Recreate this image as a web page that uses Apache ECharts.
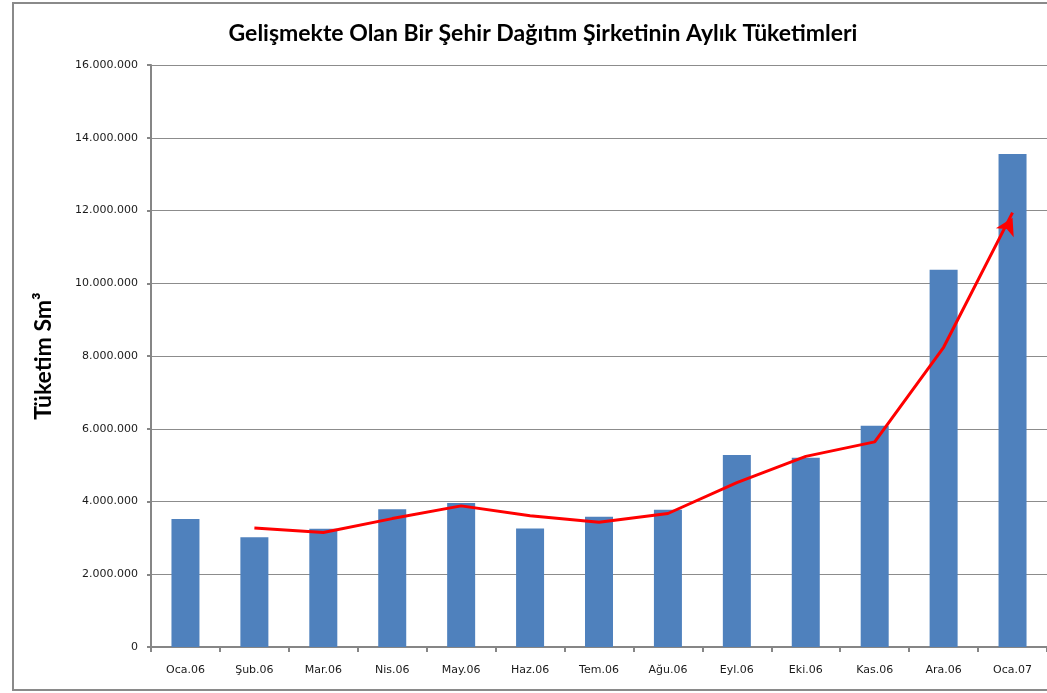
<!DOCTYPE html>
<html><head><meta charset="utf-8">
<script src="https://cdn.jsdelivr.net/npm/echarts@6/dist/echarts.min.js"></script>
<style>html,body{margin:0;padding:0;background:#fff}#c{width:1047px;height:693px}</style>
</head><body><div id="c"></div>
<script>
const categories = ['Oca.06','Şub.06','Mar.06','Nis.06','May.06','Haz.06','Tem.06','Ağu.06','Eyl.06','Eki.06','Kas.06','Ara.06','Oca.07'];
const consumption = [3520000,3020000,3250000,3790000,3960000,3260000,3580000,3770000,5280000,5200000,6080000,10370000,13550000];
const trend = [null,3270000,3150000,3530000,3880000,3610000,3430000,3670000,4520000,5240000,5640000,8240000,11940000];
const yTicks = [0,2000000,4000000,6000000,8000000,10000000,12000000,14000000,16000000];

function fmt(v){ return String(v).replace(/\B(?=(\d{3})+(?!\d))/g,'.'); }

const trendData = trend.map((v,i)=> i===trend.length-1
  ? {value:v, symbol:'arrow', symbolSize:[15,17], symbolRotate:-27, symbolOffset:[0,5], itemStyle:{color:'#FF0000'}}
  : v);

const chart = echarts.init(document.getElementById('c'));
chart.setOption({
  animation:false,
  backgroundColor:'#fff',
  title:{text:'Gelişmekte Olan Bir Şehir Dağıtım Şirketinin Aylık Tüketimleri', left:538, textAlign:'center', top:17,
    textStyle:{fontFamily:'Lato', fontWeight:'bold', fontSize:23, color:'#000'}},
  graphic:[{type:'rect', shape:{x:13,y:3,width:1100,height:687}, style:{fill:'none', stroke:'#8a8a8a', lineWidth:2}, silent:true}],
  grid:{left:151, right:-3, top:65, bottom:46},
  xAxis:{type:'category', data:categories, boundaryGap:true,
    axisLine:{lineStyle:{color:'#868686', width:2}},
    axisTick:{show:true, length:5, lineStyle:{color:'#868686', width:2}},
    axisLabel:{fontFamily:'DejaVu Sans', fontSize:11, color:'#1a1a1a', margin:18}},
  yAxis:{type:'value', min:0, max:16000000, interval:2000000,
    name:'Tüketim Sm³', nameLocation:'middle', nameGap:96, nameRotate:90,
    nameTextStyle:{fontFamily:'Lato', fontWeight:'bold', fontSize:23, color:'#000'},
    axisLine:{show:true, lineStyle:{color:'#868686', width:2}},
    axisTick:{show:true, length:4, lineStyle:{color:'#868686', width:2}},
    splitLine:{lineStyle:{color:'#8c8c8c', width:1}},
    axisLabel:{formatter:v=>fmt(v), fontFamily:'DejaVu Sans', fontSize:11, color:'#1a1a1a', margin:13}},
  series:[
    {type:'bar', data:consumption, barWidth:28, itemStyle:{color:'#4F81BD'}},
    {type:'line', data:trendData, showSymbol:true, symbol:'none', connectNulls:false,
     lineStyle:{color:'#FF0000', width:3}, itemStyle:{color:'#FF0000'}, z:5}
  ]
});
</script></body></html>
